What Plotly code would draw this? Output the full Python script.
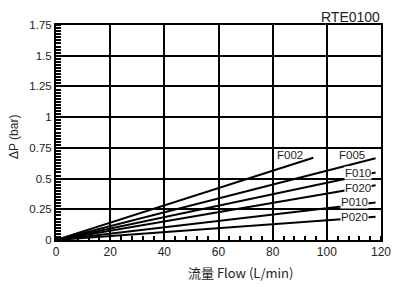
import plotly.graph_objects as go

# Data
series_names = ["F002", "F005", "F010", "F020", "P010", "P020"]
flow_end = [95, 118, 118, 118, 118, 118]
dp_end = [0.67, 0.665, 0.55, 0.445, 0.305, 0.19]

label_flow = [86.3, 109.2, 111.4, 111.4, 110.3, 110.3]
label_dp = [0.69, 0.69, 0.545, 0.42, 0.31, 0.187]
label_bg = [False, False, True, True, True, True]

x_ticks = [0, 20, 40, 60, 80, 100, 120]
y_ticks = [0, 0.25, 0.5, 0.75, 1, 1.25, 1.5, 1.75]
y_ticktext = ["0", "0.25", "0.5", "0.75", "1", "1.25", "1.5", "1.75"]

FONT = "Liberation Sans, Arial, Helvetica, sans-serif"
TXT = "#222222"

fig = go.Figure()
for name, fx, fy in zip(series_names, flow_end, dp_end):
    fig.add_trace(go.Scatter(
        x=[0, fx], y=[0, fy], mode="lines", name=name,
        line=dict(color="black", width=2), showlegend=False,
        hoverinfo="skip"))

for name, lx, ly, bg in zip(series_names, label_flow, label_dp, label_bg):
    fig.add_annotation(
        x=lx, y=ly, xref="x", yref="y", text=name, showarrow=False,
        font=dict(family=FONT, size=11.5, color=TXT),
        bgcolor="white" if bg else "rgba(0,0,0,0)", borderpad=0)

fig.add_annotation(x=1.0, y=1.0, xref="paper", yref="paper", xanchor="right",
                   yanchor="bottom", yshift=-1, borderpad=0, text="RTE0100", showarrow=False,
                   font=dict(family=FONT, size=14, color=TXT))
fig.add_annotation(x=0.569, y=0, xref="paper", yref="paper", xanchor="center",
                   yanchor="middle", yshift=-32, text="流量 Flow (L/min)", showarrow=False,
                   font=dict(family="Noto Sans CJK SC, Liberation Sans, sans-serif", size=13, color=TXT))
fig.add_annotation(x=0, y=0.479, xref="paper", yref="paper", xanchor="center",
                   yanchor="middle", xshift=-42, textangle=-90, text="ΔP (bar)",
                   showarrow=False, font=dict(family=FONT, size=12, color=TXT))

fig.update_layout(
    width=395, height=279,
    margin=dict(l=48, r=22, t=17, b=47, autoexpand=False),
    paper_bgcolor="white", plot_bgcolor="white",
    font=dict(family=FONT, size=12, color=TXT),
)
fig.update_xaxes(
    range=[0, 120], tickvals=x_ticks, ticks="", showgrid=True,
    gridcolor="black", gridwidth=2, showline=True, linecolor="black",
    linewidth=2, mirror=True, zeroline=False, automargin=False,
    tickfont=dict(family=FONT, size=12, color=TXT),
    minor=dict(ticks="inside", dtick=4, ticklen=4, tickcolor="black", tickwidth=1.5, showgrid=False),
)
fig.update_yaxes(
    range=[0, 1.75], tickvals=y_ticks, ticktext=y_ticktext, ticks="",
    showgrid=True, gridcolor="black", gridwidth=2, showline=True,
    linecolor="black", linewidth=2, mirror=True, zeroline=False, automargin=False,
    tickfont=dict(family=FONT, size=11.5, color=TXT),
    minor=dict(ticks="inside", dtick=0.025, ticklen=5, tickcolor="black", tickwidth=1.5, showgrid=False),
)

fig.write_html("out.html")
